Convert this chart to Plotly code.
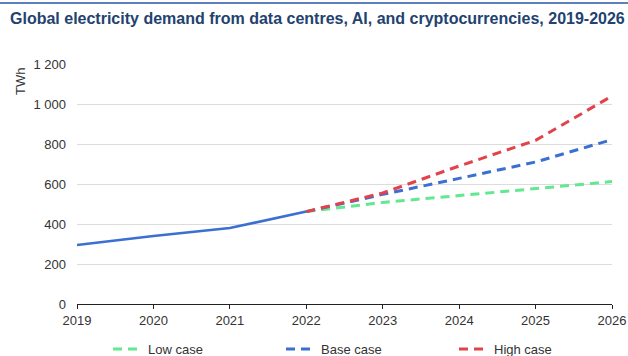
import plotly.graph_objects as go

# Electricity demand (TWh)
hist_years = [2019, 2020, 2021, 2022]
hist_values = [295, 340, 380, 462]

proj_years = [2022, 2023, 2024, 2025, 2026]
low_case = [462, 508, 542, 578, 612]
base_case = [462, 548, 628, 710, 822]
high_case = [462, 555, 690, 818, 1040]

year_ticks = [2019, 2020, 2021, 2022, 2023, 2024, 2025, 2026]
y_ticks = [0, 200, 400, 600, 800, 1000, 1200]
y_tick_labels = ["0", "200", "400", "600", "800", "1 000", "1 200"]

BLUE = "#3b6fd1"
RED = "#e2434b"
GREEN = "#63e78f"
FONT = "Liberation Sans Narrow, Arial Narrow, Liberation Sans, Arial, sans-serif"
DASH = "9px,6px"

fig = go.Figure()

fig.add_trace(go.Scatter(
    x=hist_years, y=hist_values, mode="lines",
    line=dict(color=BLUE, width=2.6), showlegend=False, hoverinfo="skip",
))
fig.add_trace(go.Scatter(
    x=proj_years, y=low_case, mode="lines", name="Low case",
    line=dict(color=GREEN, width=3, dash=DASH),
))
fig.add_trace(go.Scatter(
    x=proj_years, y=base_case, mode="lines", name="Base case",
    line=dict(color=BLUE, width=3, dash=DASH),
))
fig.add_trace(go.Scatter(
    x=proj_years, y=high_case, mode="lines", name="High case",
    line=dict(color=RED, width=3, dash=DASH),
))

L, R, T, B = 77, 16, 64, 52
W, H = 628, 356
pw, ph = W - L - R, H - T - B

fig.update_layout(
    width=W, height=H,
    margin=dict(l=L, r=R, t=T, b=B, pad=0, autoexpand=False),
    paper_bgcolor="white", plot_bgcolor="white",
    font=dict(family=FONT, size=13, color="#333333"),
    title=dict(
        text="<b>Global electricity demand from data centres, AI, and cryptocurrencies, 2019-2026</b>",
        x=10 / W, xanchor="left", xref="container",
        y=1 - 18 / H, yanchor="middle", yref="container",
        font=dict(family=FONT, size=16, color="#23426f"),
    ),
    xaxis=dict(
        range=[2019, 2026], tickvals=year_ticks, showgrid=False,
        showline=True, linecolor="#222222", linewidth=1,
        ticks="outside", ticklen=4, tickcolor="#222222",
        tickfont=dict(size=13, color="#333333"), zeroline=False,
    ),
    yaxis=dict(
        range=[0, 1200], tickvals=y_ticks, ticktext=y_tick_labels,
        showgrid=True, gridcolor="#dcdcdc", gridwidth=1,
        zeroline=False, showline=False, ticks="", ticklabelstandoff=10,
        tickfont=dict(size=13, color="#333333"),
    ),
    legend=dict(
        orientation="h", x=(108 - L) / pw, xanchor="left",
        y=(H - B - 349) / ph, yanchor="middle",
        entrywidth=128, entrywidthmode="pixels", itemwidth=30,
        font=dict(size=13, color="#333333"), bgcolor="rgba(0,0,0,0)",
    ),
    annotations=[dict(
        text="TWh", textangle=-90, showarrow=False,
        xref="paper", yref="paper",
        x=(21 - L) / pw, y=(H - B - 82) / ph,
        xanchor="center", yanchor="middle",
        font=dict(size=13, color="#333333"),
    )],
    shapes=[dict(
        type="line", xref="paper", yref="paper",
        x0=-L / pw, x1=(W - L) / pw,
        y0=(H - B - 3) / ph, y1=(H - B - 3) / ph,
        line=dict(color="#2a56a8", width=1.5),
    )],
)

fig.write_html("out.html")
